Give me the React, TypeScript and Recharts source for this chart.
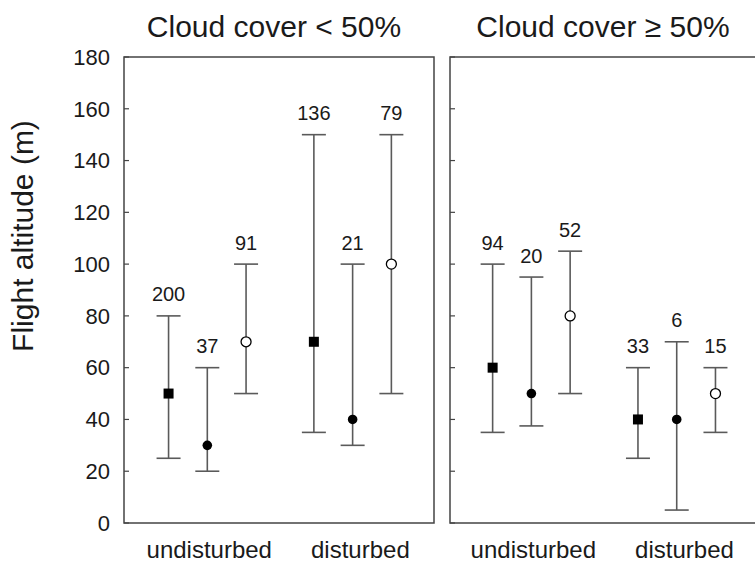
import React from "react";
import {
  ScatterChart,
  Scatter,
  XAxis,
  YAxis,
  ErrorBar,
  LabelList,
  ReferenceArea,
} from "recharts";

const FONT = '"Liberation Sans", Arial, Helvetica, sans-serif';
const INK = "#1a1a1a";
const FRAME = "#444";
const WHISKER = "#5a5a5a";

const groups = ["undisturbed", "disturbed"];
const groupCenters = [2.05, 5.95];
const squareX = [1, 4.75];
const dotX = [2, 5.75];
const ringX = [3, 6.75];
const leftDomain = [-0.15, 7.85];
// the right panel runs past the edge of the figure, so its domain is cut short
const rightDomain = [-0.1, 7.77];
const rightFrameEnd = 7.9;
const yTicks = [0, 20, 40, 60, 80, 100, 120, 140, 160, 180];

const titles = ["Cloud cover < 50%", "Cloud cover \u2265 50%"];

// cloud cover < 50%
const lowSquareMean = [50, 70];
const lowSquareMin = [25, 35];
const lowSquareMax = [80, 150];
const lowSquareN = [200, 136];
const lowDotMean = [30, 40];
const lowDotMin = [20, 30];
const lowDotMax = [60, 100];
const lowDotN = [37, 21];
const lowRingMean = [70, 100];
const lowRingMin = [50, 50];
const lowRingMax = [100, 150];
const lowRingN = [91, 79];

// cloud cover >= 50%
const highSquareMean = [60, 40];
const highSquareMin = [35, 25];
const highSquareMax = [100, 60];
const highSquareN = [94, 33];
const highDotMean = [50, 40];
const highDotMin = [37.5, 5];
const highDotMax = [95, 70];
const highDotN = [20, 6];
const highRingMean = [80, 50];
const highRingMin = [50, 35];
const highRingMax = [105, 60];
const highRingN = [52, 15];

type Row = { x: number; y: number; err: [number, number]; n: number };

function rows(xs: number[], mean: number[], min: number[], max: number[], n: number[]): Row[] {
  return xs.map((x, i) => ({
    x,
    y: mean[i],
    err: [mean[i] - min[i], max[i] - mean[i]],
    n: n[i],
  }));
}

function tops(xs: number[], max: number[], n: number[]) {
  return xs.map((x, i) => ({ x, y: max[i], n: n[i] }));
}

const SquareMark = (p: any) => (
  <rect x={p.cx - 5} y={p.cy - 5} width={10} height={10} fill="#000" />
);
const DotMark = (p: any) => <circle cx={p.cx} cy={p.cy} r={4.8} fill="#000" />;
const RingMark = (p: any) => (
  <circle cx={p.cx} cy={p.cy} r={5} fill="#fff" stroke="#000" strokeWidth={1.3} />
);
const NoMark = () => <g />;

type Series = { xs: number[]; mean: number[]; min: number[]; max: number[]; n: number[]; shape: any };

function Panel({
  series,
  width,
  leftWidth,
  showLabels,
  right,
  domain,
  frameEnd,
}: {
  series: Series[];
  width: number;
  leftWidth: number;
  showLabels: boolean;
  right: number;
  domain: number[];
  frameEnd: number;
}) {
  return (
    <ScatterChart
      width={width}
      height={565}
      margin={{ top: 57, right, bottom: 0, left: 0 }}
    >
      <XAxis
        type="number"
        dataKey="x"
        domain={domain}
        allowDataOverflow
        ticks={groupCenters}
        tickFormatter={(v) => groups[groupCenters.indexOf(v)] ?? ""}
        axisLine={false}
        tickLine={false}
        height={42}
        tickMargin={12}
        tick={{ fill: INK, fontSize: 24, fontFamily: FONT }}
        interval={0}
      />
      <YAxis
        type="number"
        dataKey="y"
        domain={[0, 180]}
        ticks={yTicks}
        width={leftWidth}
        axisLine={false}
        tickSize={-5}
        tickMargin={showLabels ? 19 : 0}
        tickLine={{ stroke: FRAME, strokeWidth: 1.2 }}
        tickFormatter={(v) => (showLabels ? String(v) : "")}
        tick={{ fill: INK, fontSize: 22, fontFamily: FONT }}
        interval={0}
      />
      <YAxis
        yAxisId="right"
        orientation="right"
        type="number"
        domain={[0, 180]}
        ticks={yTicks}
        width={0}
        axisLine={false}
        tickSize={-5}
        tickLine={{ stroke: FRAME, strokeWidth: 1.2 }}
        tickFormatter={() => ""}
        interval={0}
      />
      <ReferenceArea
        x1={domain[0]}
        x2={frameEnd}
        y1={0}
        y2={180}
        fill="none"
        fillOpacity={0}
        stroke={FRAME}
        strokeWidth={1.5}
        ifOverflow="visible"
      />
      {series.map((s, i) => (
        <Scatter
          key={"m" + i}
          data={rows(s.xs, s.mean, s.min, s.max, s.n)}
          shape={s.shape}
          isAnimationActive={false}
        >
          <ErrorBar
            dataKey="err"
            direction="y"
            width={12}
            stroke={WHISKER}
            strokeWidth={1.6}
            isAnimationActive={false}
          />
        </Scatter>
      ))}
      {series.map((s, i) => (
        <Scatter
          key={"n" + i}
          data={tops(s.xs, s.max, s.n)}
          shape={NoMark}
          isAnimationActive={false}
        >
          <LabelList
            dataKey="n"
            position="top"
            offset={10}
            fill={INK}
            fontSize={20}
            fontFamily={FONT}
          />
        </Scatter>
      ))}
    </ScatterChart>
  );
}

const lowSeries: Series[] = [
  { xs: squareX, mean: lowSquareMean, min: lowSquareMin, max: lowSquareMax, n: lowSquareN, shape: SquareMark },
  { xs: dotX, mean: lowDotMean, min: lowDotMin, max: lowDotMax, n: lowDotN, shape: DotMark },
  { xs: ringX, mean: lowRingMean, min: lowRingMin, max: lowRingMax, n: lowRingN, shape: RingMark },
];

const highSeries: Series[] = [
  { xs: squareX, mean: highSquareMean, min: highSquareMin, max: highSquareMax, n: highSquareN, shape: SquareMark },
  { xs: dotX, mean: highDotMean, min: highDotMin, max: highDotMax, n: highDotN, shape: DotMark },
  { xs: ringX, mean: highRingMean, min: highRingMin, max: highRingMax, n: highRingN, shape: RingMark },
];

const titleStyle: React.CSSProperties = {
  position: "absolute",
  top: 9,
  width: 320,
  textAlign: "center",
  fontSize: 30,
  lineHeight: "36px",
  fontFamily: FONT,
  color: INK,
  whiteSpace: "nowrap",
};

export default function App() {
  return (
    <div
      style={{
        position: "fixed",
        left: 0,
        top: 0,
        width: 755,
        height: 565,
        overflow: "hidden",
        background: "#fff",
      }}
    >
      <div style={{ ...titleStyle, left: 274 - 160 }}>{titles[0]}</div>
      <div style={{ ...titleStyle, left: 603 - 160 }}>{titles[1]}</div>
      <div
        style={{
          position: "absolute",
          left: 23 - 160,
          top: 236 - 18,
          width: 320,
          height: 36,
          lineHeight: "36px",
          textAlign: "center",
          fontSize: 30,
          fontFamily: FONT,
          color: INK,
          transform: "rotate(-90deg)",
          whiteSpace: "nowrap",
        }}
      >
        Flight altitude (m)
      </div>
      <div style={{ position: "absolute", left: 0, top: 0, width: 450, height: 565 }}>
        <Panel
          series={lowSeries}
          width={450}
          leftWidth={124}
          showLabels
          right={16}
          domain={leftDomain}
          frameEnd={leftDomain[1]}
        />
      </div>
      <div style={{ position: "absolute", left: 440, top: 0, width: 315, height: 565 }}>
        <Panel
          series={highSeries}
          width={315}
          leftWidth={10}
          showLabels={false}
          right={0}
          domain={rightDomain}
          frameEnd={rightFrameEnd}
        />
      </div>
    </div>
  );
}
